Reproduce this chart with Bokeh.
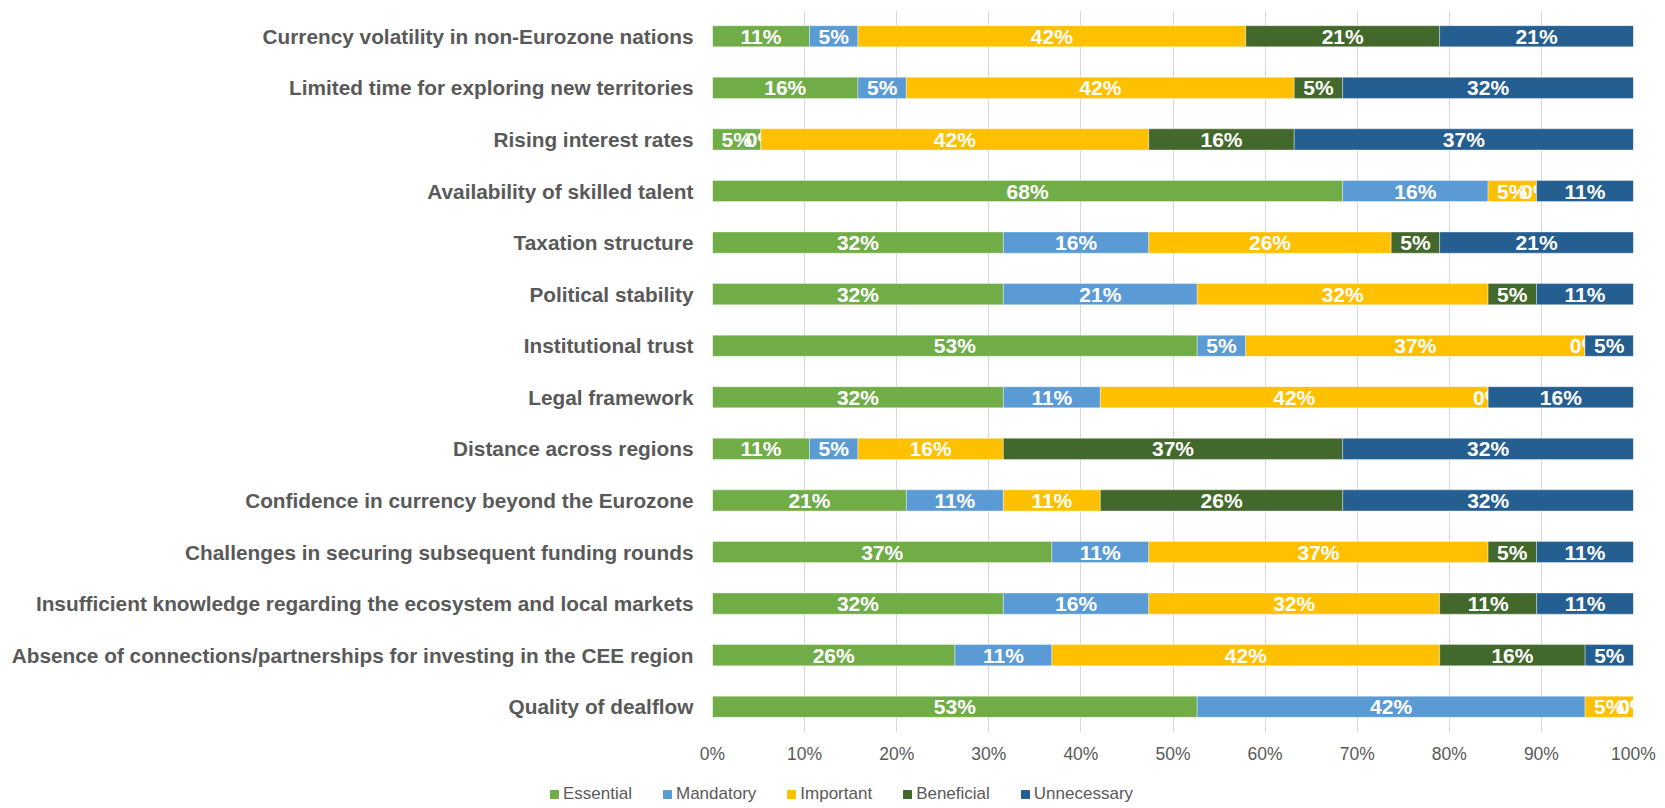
import numpy as np
from bokeh.plotting import figure
from bokeh.layouts import column
from bokeh.models import FactorRange, Range1d, FixedTicker, PrintfTickFormatter, Legend, LegendItem, ColumnDataSource
from bokeh.core.properties import value
from bokeh.embed import file_html
from bokeh.resources import INLINE

categories = [
    "Currency volatility in non-Eurozone nations",
    "Limited time for exploring new territories",
    "Rising interest rates",
    "Availability of skilled talent",
    "Taxation structure",
    "Political stability",
    "Institutional trust",
    "Legal framework",
    "Distance across regions",
    "Confidence in currency beyond the Eurozone",
    "Challenges in securing subsequent funding rounds",
    "Insufficient knowledge regarding the ecosystem and local markets",
    "Absence of connections/partnerships for investing in the CEE region",
    "Quality of dealflow",
]
series_names = ["Essential", "Mandatory", "Important", "Beneficial", "Unnecessary"]
essential   = [10.53, 15.79, 5.26, 68.42, 31.58, 31.58, 52.63, 31.58, 10.53, 21.05, 36.84, 31.58, 26.32, 52.63]
mandatory   = [5.26, 5.26, 0.0, 15.79, 15.79, 21.05, 5.26, 10.53, 5.26, 10.53, 10.53, 15.79, 10.53, 42.11]
important   = [42.11, 42.11, 42.11, 5.26, 26.32, 31.58, 36.84, 42.11, 15.79, 10.53, 36.84, 31.58, 42.11, 5.26]
beneficial  = [21.05, 5.26, 15.79, 0.0, 5.26, 5.26, 0.0, 0.0, 36.84, 26.32, 5.26, 10.53, 15.79, 0.0]
unnecessary = [21.05, 31.58, 36.84, 10.53, 21.05, 10.53, 5.26, 15.79, 31.58, 31.58, 10.53, 10.53, 5.26, 0.0]
colors = ["#70AD47", "#5B9BD5", "#FFC000", "#43682B", "#255E91"]
x_ticks = [0, 10, 20, 30, 40, 50, 60, 70, 80, 90, 100]

series = [essential, mandatory, important, beneficial, unnecessary]

W = 1657
GRAY = "#595959"
FONT = "Liberation Sans"

p = figure(width=W, height=778, output_backend="svg", toolbar_location=None,
           y_range=FactorRange(factors=list(reversed(categories)), range_padding=0),
           x_range=Range1d(0, 100),
           min_border_left=712, min_border_right=24, min_border_top=10, min_border_bottom=46)
p.outline_line_color = None

left = np.zeros(len(categories))
for name, vals, col in zip(series_names, series, colors):
    vals = np.array(vals, dtype=float)
    right = left + vals
    src = ColumnDataSource(dict(y=categories, left=left.copy(), right=right.copy(),
                                mid=(left + right) / 2,
                                lab=[f"{int(v + 0.5)}%" for v in vals]))
    p.hbar(y="y", left="left", right="right", height=0.41, source=src,
           fill_color=col, line_color="white", line_width=0.6, line_alpha=0.6)
    p.text(x="mid", y="y", text="lab", source=src, text_color="white",
           text_font=value(FONT), text_font_style="bold", text_font_size="21px",
           text_align="center", text_baseline="middle")
    left = right

p.xgrid.grid_line_color = "#D9D9D9"
p.xgrid.grid_line_width = 1
p.ygrid.grid_line_color = None

p.xaxis.ticker = FixedTicker(ticks=x_ticks)
p.xaxis.formatter = PrintfTickFormatter(format="%d%%")
p.xaxis.axis_line_color = None
p.xaxis.major_tick_line_color = None
p.xaxis.minor_tick_line_color = None
p.xaxis.major_label_text_font = FONT
p.xaxis.major_label_text_font_size = "17.5px"
p.xaxis.major_label_text_color = GRAY
p.xaxis.major_label_standoff = 5

p.yaxis.axis_line_color = None
p.yaxis.major_tick_line_color = None
p.yaxis.minor_tick_line_color = None
p.yaxis.major_label_text_font = FONT
p.yaxis.major_label_text_font_style = "bold"
p.yaxis.major_label_text_font_size = "20.8px"
p.yaxis.major_label_text_color = GRAY
p.yaxis.major_label_standoff = 13

# legend strip below the chart (frame not aligned with the chart's frame)
lg = figure(width=W, height=28, output_backend="svg", toolbar_location=None,
            x_range=Range1d(0, 1), y_range=Range1d(0, 1), frame_align=False,
            min_border_left=0, min_border_right=0, min_border_top=0, min_border_bottom=0)
lg.axis.visible = False
lg.grid.visible = False
lg.outline_line_color = None
items = []
for name, col in zip(series_names, colors):
    r = lg.hbar(y=[-5], left=[0], right=[1], height=0.5, fill_color=col, line_color=col)
    items.append(LegendItem(label=name, renderers=[r]))
legend = Legend(items=items, orientation="horizontal", location=(549, 2),
                label_text_font=FONT, label_text_font_size="17px", label_text_color=GRAY,
                glyph_width=10, glyph_height=10, label_standoff=4, spacing=30,
                label_height=16,
                border_line_color=None, background_fill_alpha=0, padding=0, margin=0)
lg.add_layout(legend, "center")

layout = column(p, lg, spacing=0)
open("out.html", "w").write(file_html(layout, INLINE))
